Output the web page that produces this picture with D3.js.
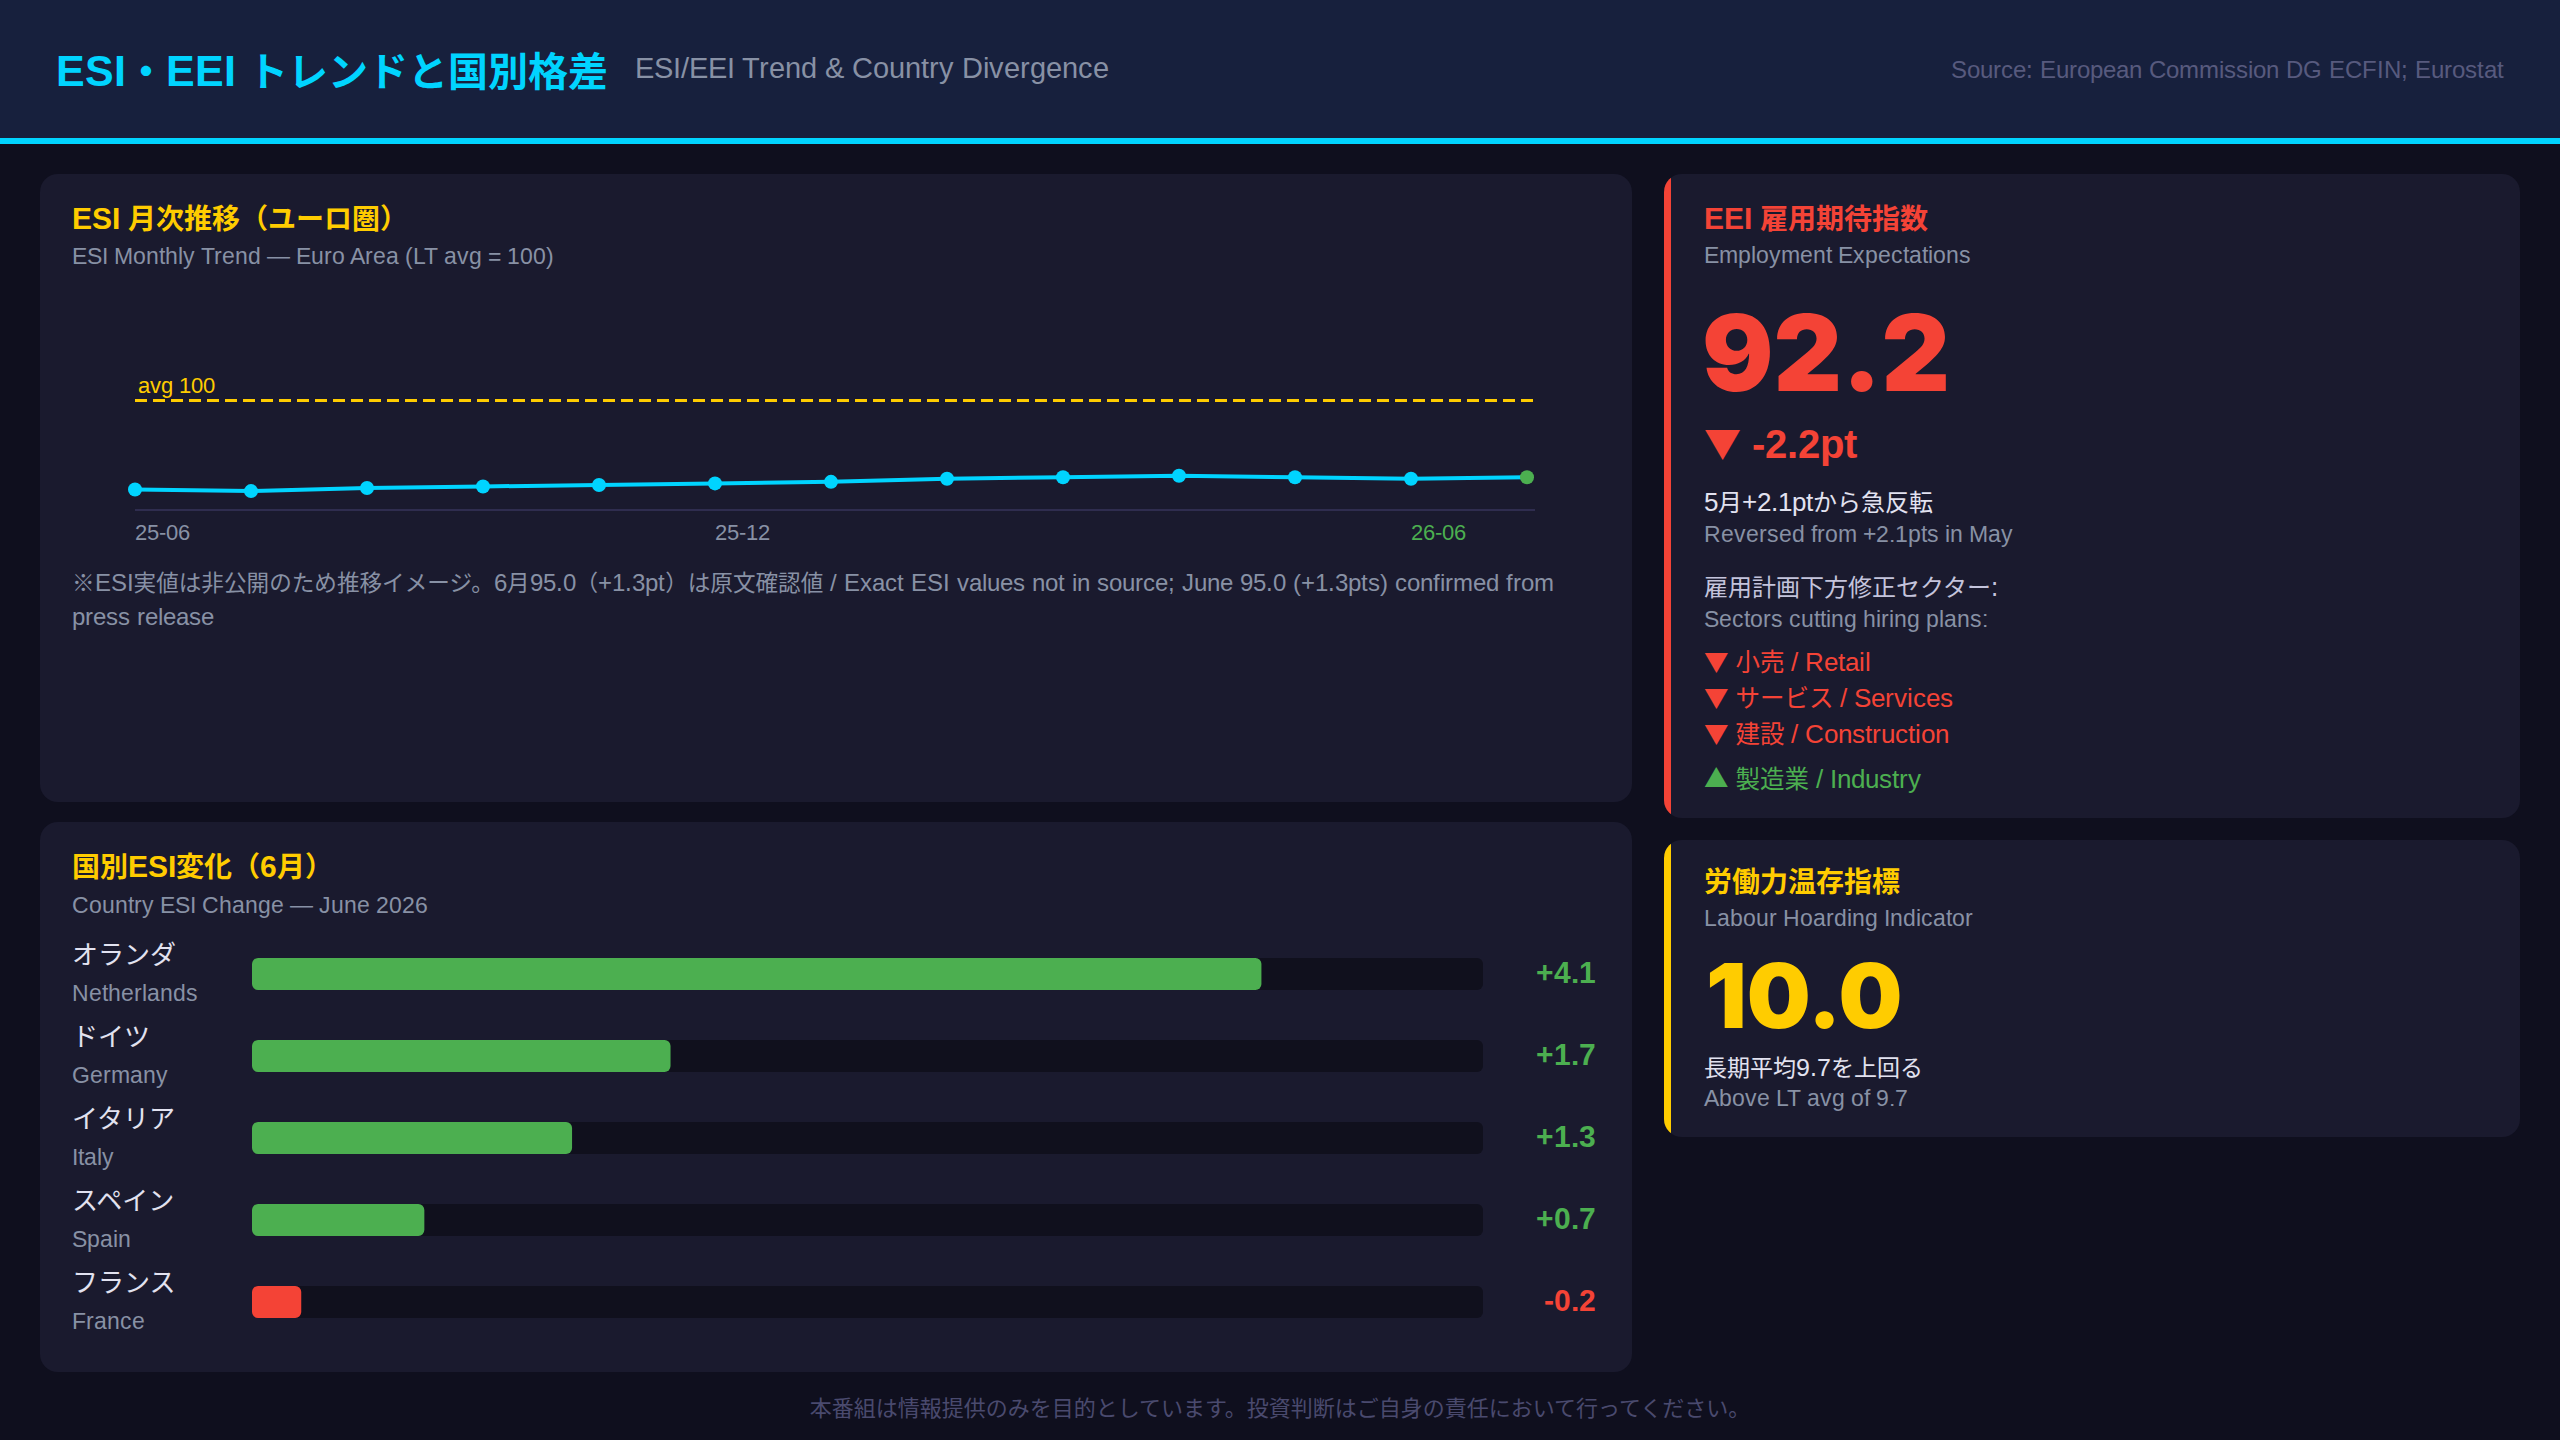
<!DOCTYPE html>
<html>
<head>
<meta charset="utf-8">
<script src="https://cdn.jsdelivr.net/npm/d3@7"></script>
<style>
@font-face {
	font-family: "LatinX";
	src: local("Liberation Sans"), local("LiberationSans"), local("LiberationSans-Regular");
	font-weight: 400;
	size-adjust: 108%;
	unicode-range: U+0000-00FF, U+2014;
}
@font-face {
	font-family: "LatinX";
	src: local("Liberation Sans Bold"), local("LiberationSans-Bold");
	font-weight: 700;
	size-adjust: 108%;
	unicode-range: U+0000-00FF, U+2014;
}
html, body { margin: 0; padding: 0; background: #0f0f1e; }
svg { display: block; }
</style>
</head>
<body>
<div id="chart"></div>
<script>
// ESI monthly trend (estimated image values, euro area)
var months = ['25-06','25-07','25-08','25-09','25-10','25-11','25-12','26-01','26-02','26-03','26-04','26-05','26-06'];
var esiValues = [94.2, 94.1, 94.3, 94.4, 94.5, 94.6, 94.7, 94.9, 95.0, 95.1, 95.0, 94.9, 95.0];
var esiAvg = 100;
var tickIndex = [0, 5, 11];
var tickText = ['25-06', '25-12', '26-06'];

// country ESI change, June
var countryJa = ['オランダ', 'ドイツ', 'イタリア', 'スペイン', 'フランス'];
var countryEn = ['Netherlands', 'Germany', 'Italy', 'Spain', 'France'];
var countryChange = [4.1, 1.7, 1.3, 0.7, -0.2];

// EEI + labour hoarding
var eeiValue = 92.2;
var eeiChange = -2.2;
var sectorsDown = ['小売 / Retail', 'サービス / Services', '建設 / Construction'];
var sectorsUp = ['製造業 / Industry'];
var hoardValue = 10.0;

var W = 2560, H = 1440;
var FONT = '"LatinX", "Liberation Sans", "Noto Sans CJK JP", sans-serif';
var CJK = '"Noto Sans CJK JP", sans-serif';
var HEAVY = 'Inter, "Liberation Sans", sans-serif';
var CYAN = '#00d4ff', YELLOW = '#ffcc00', RED = '#f44336', GREEN = '#4caf50';
var GRAY = '#8891a5', LIGHT = '#e2e2f0', PANEL = '#1a1a2e', TRACK = '#10101d';

var svg = d3.select('#chart').append('svg')
	.attr('width', W)
	.attr('height', H);

svg.append('rect').attr('width', W).attr('height', H).attr('fill', '#0f0f1e');

function txt(g, x, y, s, size, color, weight, anchor, family){
	return g.append('text')
		.attr('x', x)
		.attr('y', y)
		.attr('font-size', size)
		.attr('font-weight', weight || 400)
		.attr('font-family', family || FONT)
		.attr('text-anchor', anchor || 'start')
		.attr('fill', color)
		.text(s);
}

// text with a full-width arrow glyph in front
function arrowTxt(g, x, y, arrow, s, size, color, weight){
	var t = g.append('text')
		.attr('x', x).attr('y', y)
		.attr('font-size', size)
		.attr('font-weight', weight || 400)
		.attr('font-family', FONT)
		.attr('fill', color);
	t.append('tspan').attr('font-family', CJK).text(arrow);
	t.append('tspan').text(' ' + s);
	return t;
}

// header
svg.append('rect').attr('width', W).attr('height', 138).attr('fill', '#17203d');
svg.append('rect').attr('y', 138).attr('width', W).attr('height', 6).attr('fill', CYAN);
txt(svg, 56, 86, 'ESI・EEI トレンドと国別格差', 40, CYAN, 700);
txt(svg, 635, 78, 'ESI/EEI Trend & Country Divergence', 27.3, GRAY);
txt(svg, 2504, 78, 'Source: European Commission DG ECFIN; Eurostat', 22.4, '#575a7e', 400, 'end');

// panels
var defs = svg.append('defs');
function panel(id, x, y, w, h, border){
	var g = svg.append('g');
	defs.append('clipPath').attr('id', id)
		.append('rect').attr('x', x).attr('y', y).attr('width', w).attr('height', h).attr('rx', 18);
	g.append('rect').attr('x', x).attr('y', y).attr('width', w).attr('height', h).attr('rx', 18).attr('fill', PANEL);
	if(border){
		g.append('rect').attr('x', x).attr('y', y).attr('width', 7).attr('height', h)
			.attr('fill', border).attr('clip-path', 'url(#' + id + ')');
	}
	return g;
}

// ---- ESI trend ----
var p1 = panel('c1', 40, 174, 1592, 628);
txt(p1, 72, 229, 'ESI 月次推移（ユーロ圏）', 28, YELLOW, 700);
txt(p1, 72, 264, 'ESI Monthly Trend — Euro Area (LT avg = 100)', 21, GRAY);

var x = d3.scaleLinear().domain([0, months.length - 1]).range([135, 1527]);
var y = d3.scaleLinear().domain([93, 101]).range([508, 385]);

p1.append('line')
	.attr('x1', x(0)).attr('x2', x(months.length - 1) + 8)
	.attr('y1', 510).attr('y2', 510)
	.attr('stroke', '#2f2d4f').attr('stroke-width', 2);

p1.append('line')
	.attr('x1', x(0)).attr('x2', x(months.length - 1) + 6)
	.attr('y1', y(esiAvg)).attr('y2', y(esiAvg))
	.attr('stroke', YELLOW).attr('stroke-width', 3)
	.attr('stroke-dasharray', '12,6');
txt(p1, x(0) + 3, y(esiAvg) - 7, 'avg ' + esiAvg, 20.5, YELLOW);

var line = d3.line()
	.x(function(d, i){ return x(i); })
	.y(function(d){ return y(d); });

p1.append('path')
	.datum(esiValues)
	.attr('d', line)
	.attr('fill', 'none')
	.attr('stroke', CYAN)
	.attr('stroke-width', 4);

p1.selectAll('circle.pt')
	.data(esiValues)
	.enter().append('circle')
	.attr('class', 'pt')
	.attr('cx', function(d, i){ return x(i); })
	.attr('cy', function(d){ return y(d); })
	.attr('r', 7)
	.attr('fill', function(d, i){ return i === esiValues.length - 1 ? GREEN : CYAN; });

p1.selectAll('text.tick')
	.data(tickIndex)
	.enter().append('text')
	.attr('class', 'tick')
	.attr('x', function(d){ return x(d); })
	.attr('y', 540)
	.attr('font-size', 20)
	.attr('font-family', FONT)
	.attr('fill', function(d, i){ return i === tickIndex.length - 1 ? GREEN : GRAY; })
	.text(function(d, i){ return tickText[i]; });

txt(p1, 72, 591, '※ESI実値は非公開のため推移イメージ。6月95.0（+1.3pt）は原文確認値 / Exact ESI values not in source; June 95.0 (+1.3pts) confirmed from', 22.6, GRAY);
txt(p1, 72, 625, 'press release', 22.6, GRAY);

// ---- country bars ----
var p2 = panel('c2', 40, 822, 1592, 550);
txt(p2, 72, 877, '国別ESI変化（6月）', 28, YELLOW, 700);
txt(p2, 72, 913, 'Country ESI Change — June 2026', 21, GRAY);

var trackX = 252, trackW = 1231;
var bx = d3.scaleLinear().domain([0, 5]).range([0, trackW]);
var by = d3.scaleBand().domain(countryEn).range([932, 932 + 82 * countryEn.length]);

var rows = p2.selectAll('g.row')
	.data(countryChange)
	.enter().append('g')
	.attr('class', 'row')
	.attr('transform', function(d, i){ return 'translate(0,' + by(countryEn[i]) + ')'; });

rows.append('rect')
	.attr('x', trackX).attr('y', 26)
	.attr('width', trackW).attr('height', 32)
	.attr('rx', 6).attr('fill', TRACK);

rows.append('rect')
	.attr('x', trackX).attr('y', 26)
	.attr('width', function(d){ return bx(Math.abs(d)); })
	.attr('height', 32)
	.attr('rx', 6)
	.attr('fill', function(d){ return d >= 0 ? GREEN : RED; });

rows.append('text')
	.attr('x', 72).attr('y', 32)
	.attr('font-size', 26).attr('font-family', FONT)
	.attr('fill', LIGHT)
	.text(function(d, i){ return countryJa[i]; });

rows.append('text')
	.attr('x', 72).attr('y', 69)
	.attr('font-size', 21).attr('font-family', FONT)
	.attr('fill', GRAY)
	.text(function(d, i){ return countryEn[i]; });

rows.append('text')
	.attr('x', 1596).attr('y', 51)
	.attr('text-anchor', 'end')
	.attr('font-size', 27.5).attr('font-weight', 700).attr('font-family', FONT)
	.attr('fill', function(d){ return d >= 0 ? GREEN : RED; })
	.text(function(d){ return (d > 0 ? '+' : '') + d.toFixed(1); });

// ---- EEI card ----
var p3 = panel('c3', 1664, 174, 856, 644, RED);
txt(p3, 1704, 229, 'EEI 雇用期待指数', 28, RED, 700);
txt(p3, 1704, 263, 'Employment Expectations', 21, GRAY);
txt(p3, 1702, 391, eeiValue.toFixed(1), 106, RED, 900, 'start', HEAVY);
arrowTxt(p3, 1704, 458, '▼', eeiChange.toFixed(1) + 'pt', 37, RED, 700);
txt(p3, 1704, 511, '5月+2.1ptから急反転', 24, LIGHT);
txt(p3, 1704, 542, 'Reversed from +2.1pts in May', 21, GRAY);
txt(p3, 1704, 596, '雇用計画下方修正セクター:', 24, '#c4c4dc');
txt(p3, 1704, 627, 'Sectors cutting hiring plans:', 21, GRAY);

sectorsDown.forEach(function(d, i){
	arrowTxt(p3, 1704, 671 + i * 36, '▼', d, 24.5, RED);
});
sectorsUp.forEach(function(d, i){
	arrowTxt(p3, 1704, 788 + i * 36, '▲', d, 24.5, GREEN);
});

// ---- labour hoarding card ----
var p4 = panel('c4', 1664, 840, 856, 297, YELLOW);
txt(p4, 1704, 892, '労働力温存指標', 28, YELLOW, 700);
txt(p4, 1704, 926, 'Labour Hoarding Indicator', 21, GRAY);
txt(p4, 1706, 1028, hoardValue.toFixed(1), 90, YELLOW, 900, 'start', HEAVY);
txt(p4, 1704, 1076, '長期平均9.7を上回る', 23, LIGHT);
txt(p4, 1704, 1106, 'Above LT avg of 9.7', 21, GRAY);

// footer
txt(svg, 1280, 1416, '本番組は情報提供のみを目的としています。投資判断はご自身の責任において行ってください。', 22, '#4a4a6e', 400, 'middle');
</script>
</body>
</html>
